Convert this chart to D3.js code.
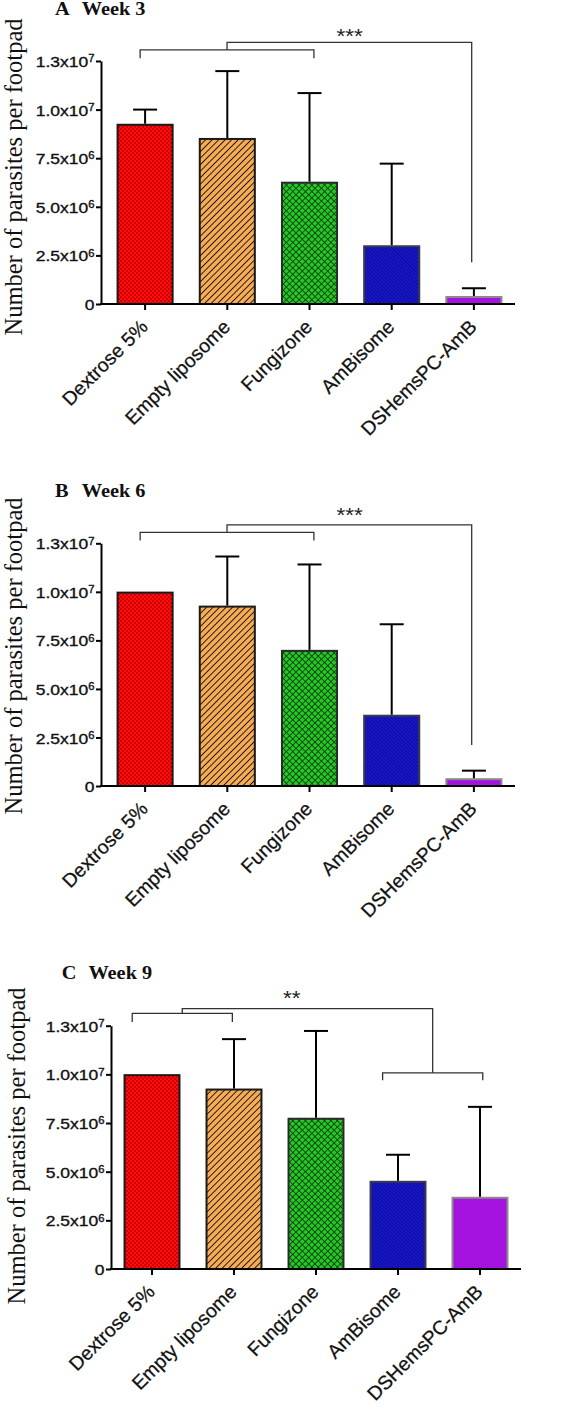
<!DOCTYPE html>
<html><head><meta charset="utf-8">
<script src="https://cdn.jsdelivr.net/npm/d3@7"></script>
<style>body{margin:0;background:#fff}svg{display:block}</style>
</head><body>
<svg id="c" width="566" height="1412"></svg>
<script>
const categories = ["Dextrose 5%", "Empty liposome", "Fungizone", "AmBisome", "DSHemsPC-AmB"];
const yTicks = [0, 2.5e6, 5e6, 7.5e6, 1e7, 1.25e7];
const yTickMain = ["0", "2.5x10", "5.0x10", "7.5x10", "1.0x10", "1.3x10"];
const yTickExp = ["", "6", "6", "6", "7", "7"];
const week3Means = [9.22e6, 8.49e6, 6.24e6, 2.97e6, 0.36e6];
const week3SD = [0.78e6, 3.49e6, 4.61e6, 4.25e6, 0.45e6];
const week6Means = [9.96e6, 9.24e6, 6.96e6, 3.62e6, 0.35e6];
const week6SD = [0, 2.58e6, 4.45e6, 4.71e6, 0.44e6];
const week9Means = [9.96e6, 9.22e6, 7.72e6, 4.48e6, 3.66e6];
const week9SD = [0, 2.59e6, 4.51e6, 1.39e6, 4.67e6];

const SX = 1.13;
const svg = d3.select("#c");
const defs = svg.append("defs");

function pat(id, size, rot, base, draw) {
  const p = defs.append("pattern").attr("id", id).attr("patternUnits", "userSpaceOnUse")
    .attr("width", size).attr("height", size);
  if (rot) p.attr("patternTransform", `rotate(${rot})`);
  p.append("rect").attr("width", size).attr("height", size).attr("fill", base);
  draw(p, size);
}
pat("pRed", 4, 0, "#fc0e0e", (p) => {
  p.append("rect").attr("width", 2).attr("height", 2).attr("fill", "#d00000");
  p.append("rect").attr("x", 2).attr("y", 2).attr("width", 2).attr("height", 2).attr("fill", "#d00000");
});
pat("pOrange", 4.6, 45, "#f7ab55", (p, s) => {
  p.append("line").attr("x1", 0).attr("x2", 0).attr("y1", 0).attr("y2", s).attr("stroke", "#111").attr("stroke-width", 1.8);
});
pat("pGreen", 4.5, 45, "#26c826", (p, s) => {
  p.append("line").attr("x1", 0).attr("x2", 0).attr("y1", 0).attr("y2", s).attr("stroke", "#0a2a0a").attr("stroke-width", 1.5);
  p.append("line").attr("x1", 0).attr("x2", s).attr("y1", 0).attr("y2", 0).attr("stroke", "#0a2a0a").attr("stroke-width", 1.5);
});
pat("pBlue", 2.6, -45, "#1818c8", (p, s) => {
  p.append("line").attr("x1", 0).attr("x2", 0).attr("y1", 0).attr("y2", s).attr("stroke", "#06068e").attr("stroke-width", 1.4);
});
const fills = ["url(#pRed)", "url(#pOrange)", "url(#pGreen)", "url(#pBlue)", "#a412e0"];
const outlines = ["#1a1a1a", "#1a1a1a", "#2a2a2a", "#3a3a4a", "#8a8a8a"];

const panels = [
  { letter: "A", week: "Week 3", means: week3Means, sd: week3SD,
    yAxisX: 101, xRange: [104, 515], y0: 304, yTop: 61,
    titleX: 55, weekX: 81.7, titleBase: 14.5, ylabX: 21.5, ylabCy: 177,
    b1: { a: [0, 0.41], b: [2, 0.58], y: 13.07e6, leg: 12.64e6 },
    topY: 13.46e6, target: { x: [4, 0.46], y: 2.15e6 },
    stars: "***", starX: [2, 1.23], starY: 14.0e6 },
  { letter: "B", week: "Week 6", means: week6Means, sd: week6SD,
    yAxisX: 101, xRange: [104, 515], y0: 786, yTop: 543.3,
    titleX: 55, weekX: 81.7, titleBase: 496.7, ylabX: 21.5, ylabCy: 656,
    b1: { a: [0, 0.41], b: [2, 0.58], y: 13.06e6, leg: 12.64e6 },
    topY: 13.45e6, target: { x: [4, 0.46], y: 2.11e6 },
    stars: "***", starX: [2, 1.23], starY: 14.14e6 },
  { letter: "C", week: "Week 9", means: week9Means, sd: week9SD,
    yAxisX: 111, xRange: [111, 521], y0: 1269, yTop: 1025.7,
    titleX: 61.7, weekX: 88.4, titleBase: 979.3, ylabX: 25, ylabCy: 1146,
    b1: { a: [0, 0.14], b: [1, 0.47], y: 13.13e6, leg: 12.69e6 },
    topY: 13.38e6, b2: { a: [3, 0.22], b: [4, 0.55], y: 10.08e6, leg: 9.70e6 },
    stars: "**", starX: [2, 0.06], starY: 14.15e6 }
];

panels.forEach(P => {
  const g = svg.append("g");
  const x = d3.scaleBand().domain(categories).range(P.xRange).paddingInner(0.33).paddingOuter(0.165);
  const y = d3.scaleLinear().domain([0, 1.25e7]).range([P.y0, P.yTop]);
  const bx = (spec) => x(categories[spec[0]]) + spec[1] * x.bandwidth();

  g.selectAll("rect.bar").data(P.means).join("rect").attr("class", "bar")
    .attr("x", (d, i) => x(categories[i])).attr("width", x.bandwidth())
    .attr("y", d => y(d)).attr("height", d => P.y0 - y(d))
    .attr("fill", (d, i) => fills[i]).attr("stroke", (d, i) => outlines[i]).attr("stroke-width", 2);

  P.means.forEach((m, i) => {
    if (!P.sd[i]) return;
    const cx = x(categories[i]) + x.bandwidth() / 2;
    g.append("line").attr("x1", cx).attr("x2", cx).attr("y1", y(m) - 1).attr("y2", y(m + P.sd[i]))
      .attr("stroke", "#000").attr("stroke-width", 2);
    g.append("line").attr("x1", cx - 12).attr("x2", cx + 12).attr("y1", y(m + P.sd[i])).attr("y2", y(m + P.sd[i]))
      .attr("stroke", "#000").attr("stroke-width", 2);
  });

  const ya = g.append("g").attr("transform", `translate(${P.yAxisX},0)`)
    .call(d3.axisLeft(y).tickValues(yTicks).tickSize(5).tickSizeOuter(0));
  ya.select(".domain").attr("stroke-width", 2);
  ya.selectAll(".tick line").attr("stroke-width", 2);
  ya.selectAll(".tick text").each(function (d, i) {
    const t = d3.select(this);
    t.text(null).attr("x", -6.5 / SX).attr("dy", "0.36em")
      .attr("transform", `scale(${SX},1)`)
      .attr("font-family", "Liberation Sans, Arial, sans-serif").attr("font-size", 15.5)
      .attr("fill", "#111").attr("stroke", "#111").attr("stroke-width", 0.35);
    t.append("tspan").text(yTickMain[i]);
    if (yTickExp[i]) t.append("tspan").attr("dy", -4.8).attr("font-size", 10).text(yTickExp[i]);
  });

  g.append("line").attr("x1", P.yAxisX - 1).attr("x2", P.xRange[1]).attr("y1", P.y0).attr("y2", P.y0)
    .attr("stroke", "#000").attr("stroke-width", 2);
  const xa = g.append("g").attr("transform", `translate(0,${P.y0})`)
    .call(d3.axisBottom(x).tickSize(6).tickSizeOuter(0));
  xa.select(".domain").remove();
  xa.selectAll(".tick line").attr("stroke-width", 2);
  xa.selectAll(".tick text")
    .attr("font-family", "Liberation Sans, Arial, sans-serif").attr("font-size", 19.5).attr("fill", "#111")
    .attr("stroke", "#111").attr("stroke-width", 0.25)
    .attr("text-anchor", "end").attr("x", 0).attr("y", 0).attr("dy", 0)
    .attr("transform", "translate(4,24) rotate(-45)");

  const br = (b) => {
    const xa_ = bx(b.a), xb_ = bx(b.b);
    g.append("path").attr("d", `M${xa_},${y(b.leg)}V${y(b.y)}H${xb_}V${y(b.leg)}`)
      .attr("fill", "none").attr("stroke", "#333").attr("stroke-width", 1.3);
    return (xa_ + xb_) / 2;
  };
  const m1 = br(P.b1);
  let endX, endY;
  if (P.b2) { endX = br(P.b2); endY = y(P.b2.y); }
  else { endX = bx(P.target.x); endY = y(P.target.y); }
  g.append("path").attr("d", `M${m1},${y(P.b1.y)}V${y(P.topY)}H${endX}V${endY}`)
    .attr("fill", "none").attr("stroke", "#333").attr("stroke-width", 1.3);

  g.append("text").attr("transform", `translate(${bx(P.starX)},${y(P.starY) + 11}) scale(${SX},1)`)
    .attr("text-anchor", "middle").attr("font-family", "Liberation Sans, Arial, sans-serif")
    .attr("font-size", 20).attr("fill", "#222").text(P.stars);

  const tt = g.append("g").attr("font-family", "Liberation Serif, Times New Roman, serif")
    .attr("font-weight", "bold").attr("font-size", 18).attr("fill", "#111");
  tt.append("text").attr("transform", `translate(${P.titleX},${P.titleBase}) scale(${SX},1)`).text(P.letter);
  tt.append("text").attr("transform", `translate(${P.weekX},${P.titleBase}) scale(${SX},1)`).text(P.week);

  g.append("text").attr("transform", `translate(${P.ylabX},${P.ylabCy}) rotate(-90)`)
    .attr("text-anchor", "middle").attr("font-family", "Liberation Serif, Times New Roman, serif")
    .attr("font-size", 24.5).attr("fill", "#111").text("Number of parasites per footpad");
});
</script>
</body></html>
